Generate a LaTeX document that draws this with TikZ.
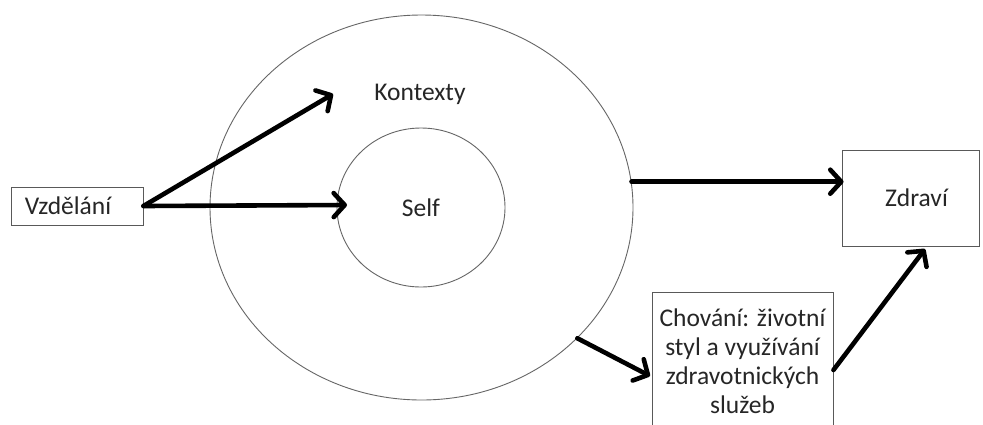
\documentclass[tikz,border=0pt]{standalone}
\usepackage{fontspec}
\setmainfont{Carlito}
\usetikzlibrary{arrows.meta,shapes.geometric}
\begin{document}
\begin{tikzpicture}[x=1pt,y=-1pt,
  ring/.style={draw=black!60, line width=0.9pt, ellipse, inner sep=0pt},
  boxnode/.style={draw=black!65, line width=0.9pt, rectangle, inner sep=0pt, align=center},
  txt/.style={text=black!85, font=\fontsize{25.5}{29}\selectfont},
  bigarrow/.style={line width=4.6pt, line cap=round, line join=round,
    -{Straight Barb[length=11pt,width=24pt,line cap=round,line join=round]}}]
\clip (0,0) rectangle (983,424);
\fill[white] (0,0) rectangle (983,424);
\node[ring, minimum width=423pt, minimum height=385pt] (outer) at (421.5,207.5) {};
\node[ring, txt, minimum width=168pt, minimum height=159pt] (inner) at (421,207.5) {Self};
\node[txt] (kon) at (420,94) {Kontexty};
\node[boxnode, txt, minimum width=132pt, minimum height=38pt] (vz) at (77,206) {Vzdělání\hspace*{18pt}};
\node[boxnode, txt, minimum width=137pt, minimum height=96pt] (zd) at (910.5,198) {\hspace*{12pt}Zdraví};
\node[boxnode, txt, minimum width=181pt, minimum height=138pt] (ch) at (742.5,361)
  {Chování: životní\\styl a využívání\\zdravotnických\\služeb};
\coordinate (selftip) at (347,205);
\coordinate (kontip) at (333,94);
\coordinate (chtip) at (650,376);
\coordinate (zdtip) at (925,249);
\draw[bigarrow] (vz.east) -- (selftip);
\draw[bigarrow] (vz.east) -- (kontip);
\draw[bigarrow] (outer.7) -- ([xshift=2pt]outer.7 -| zd.west);
\draw[bigarrow] (outer.-40) -- (chtip);
\draw[bigarrow] ([yshift=-9pt]ch.east) -- (zdtip);
\end{tikzpicture}
\end{document}
